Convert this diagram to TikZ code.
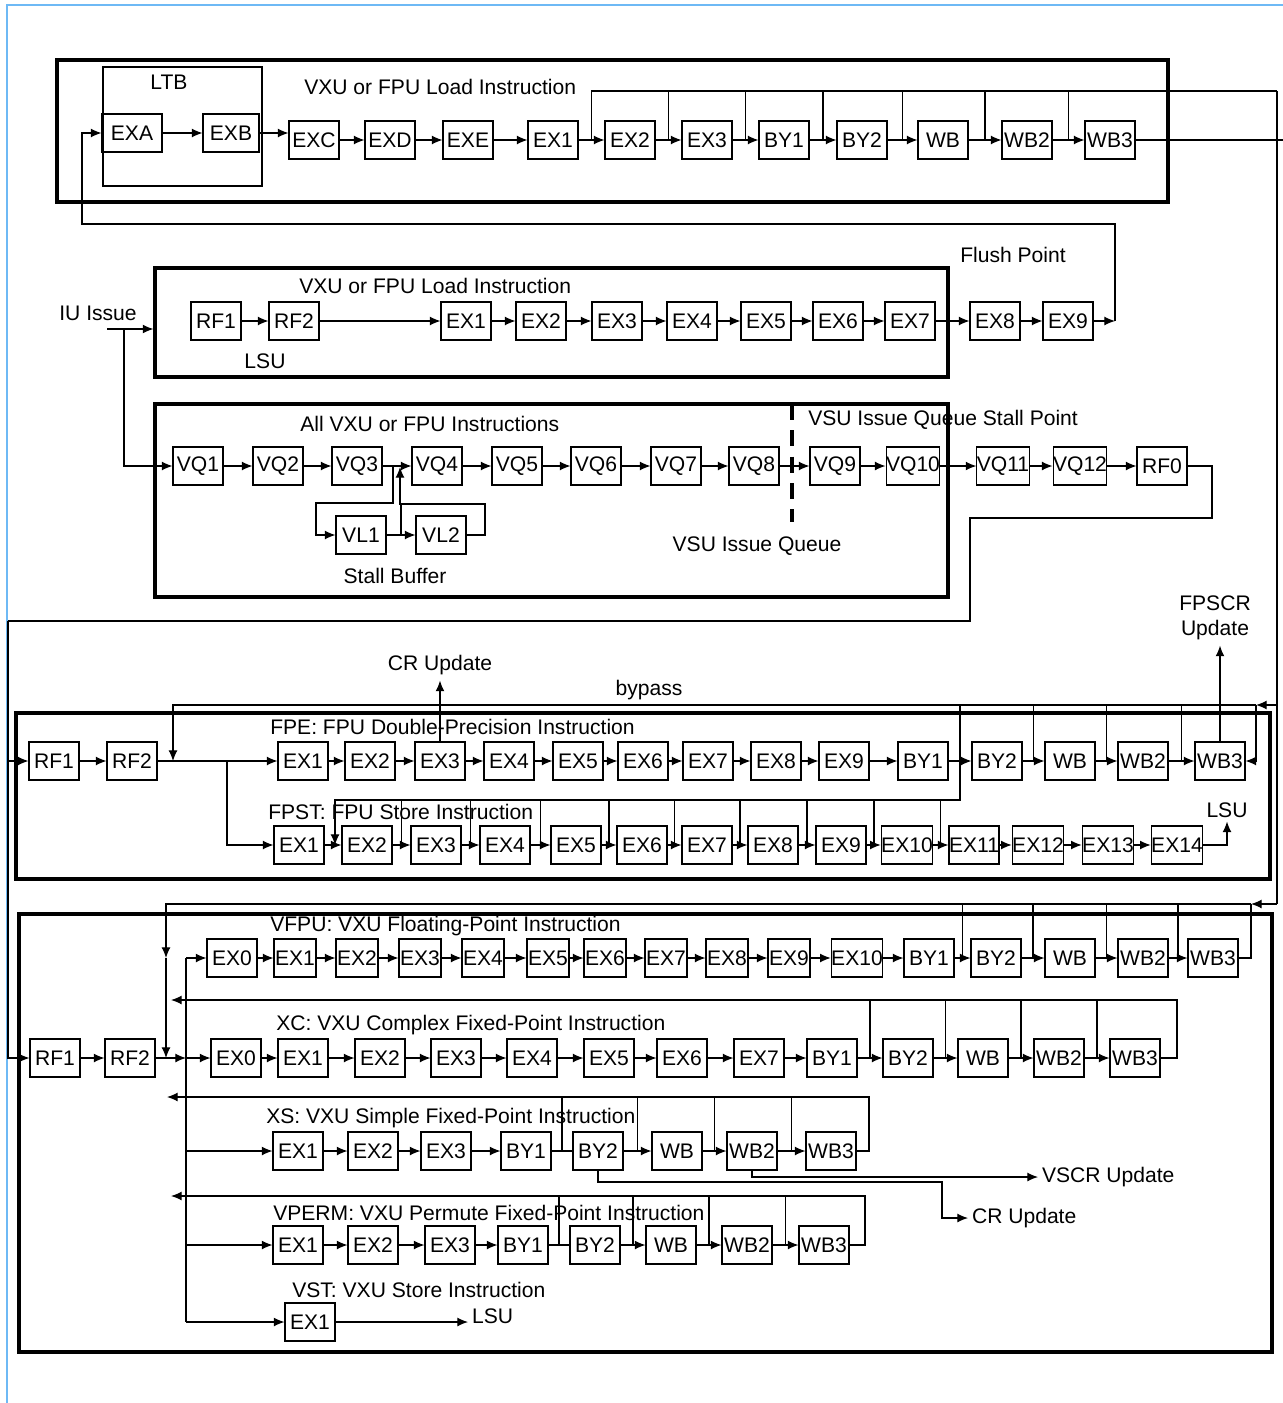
\documentclass[tikz,border=0pt]{standalone}
\usepackage{fontspec}
\setmainfont{Liberation Sans}
\usetikzlibrary{arrows.meta,calc}
\definecolor{pagerule}{RGB}{110,185,245}
\begin{document}
\begin{tikzpicture}[x=0.02cm, y=-0.02cm,
    font=\fontsize{12}{14}\selectfont,
    >={Latex[length=6pt,width=5pt]},
    line width=0.6pt,
    stage/.style={draw, rectangle, minimum width=1cm, minimum height=0.76cm, inner xsep=0pt, inner ysep=1pt},
    slim/.style={stage, minimum width=0.84cm},
    unitbox/.style={draw, rectangle, line width=1.9pt, inner sep=0pt},
    lbl/.style={inner sep=1pt},
    heading/.style={lbl, anchor=west},
    stall/.style={line width=2pt, dash pattern=on 9pt off 6pt}]
    \useasboundingbox (0,0) rectangle (1283,1403);
    \draw[pagerule, line width=1.2pt] (7,1403) -- (7,5) -- (1283,5);

    % frames
    \node[unitbox, minimum width=22.22cm, minimum height=2.84cm] (ldbox) at (612.5,131) {};
    \node[draw, rectangle, minimum width=3.18cm, minimum height=2.38cm] (ltb) at (182.5,126.5) {};
    \node[unitbox, minimum width=15.86cm, minimum height=2.18cm] (lsbox) at (551.5,322.5) {};
    \node[unitbox, minimum width=15.86cm, minimum height=3.86cm] (vqbox) at (551.5,500.5) {};
    \node[unitbox, minimum width=25.08cm, minimum height=3.32cm] (fpbox) at (643,796) {};
    \node[unitbox, minimum width=25.06cm, minimum height=8.76cm] (vxbox) at (645.5,1133) {};

    % load path through the LTB
    \node[lbl] (ltblbl) at (169,82) {LTB};
    \node[heading] (ldtitle) at (302,87) {VXU or FPU Load Instruction};
    \node[stage, minimum width=1.2cm] (ldexa) at (132,133) {EXA};
    \node[stage, minimum width=1.12cm] (ldexb) at (231,133) {EXB};
    \node[stage] (ldexc) at (314,140) {EXC};
    \node[stage] (ldexd) at (390,140) {EXD};
    \node[stage] (ldexe) at (468,140) {EXE};
    \node[stage] (ldex1) at (553,140) {EX1};
    \node[stage] (ldex2) at (630,140) {EX2};
    \node[stage] (ldex3) at (707,140) {EX3};
    \node[stage] (ldby1) at (784,140) {BY1};
    \node[stage] (ldby2) at (862,140) {BY2};
    \node[stage] (ldwb) at (943,140) {WB};
    \node[stage] (ldwb2) at (1027,140) {WB2};
    \node[stage] (ldwb3) at (1110,140) {WB3};

    \draw[->] (ldexa) -- (ldexb);
    \draw[->] (ldexb) -- (ldexb -| ldexc.west);
    \draw[->] (ldexc) -- (ldexd);
    \draw[->] (ldexd) -- (ldexe);
    \draw[->] (ldexe) -- (ldex1);
    \draw[->] (ldex1) -- (ldex2);
    \draw[->] (ldex2) -- (ldex3);
    \draw[->] (ldex3) -- (ldby1);
    \draw[->] (ldby1) -- (ldby2);
    \draw[->] (ldby2) -- (ldwb);
    \draw[->] (ldwb) -- (ldwb2);
    \draw[->] (ldwb2) -- (ldwb3);

    \coordinate (ldbus) at (1277,91);
    \coordinate (ldout) at (1283,140);
    \draw ($(ldex1)!0.5!(ldex2)$) |- (ldbus);
    \draw ($(ldex2)!0.5!(ldex3)$) |- (ldbus);
    \draw ($(ldex3)!0.5!(ldby1)$) |- (ldbus);
    \draw ($(ldby1)!0.5!(ldby2)$) |- (ldbus);
    \draw ($(ldby2)!0.5!(ldwb)$) |- (ldbus);
    \draw ($(ldwb)!0.5!(ldwb2)$) |- (ldbus);
    \draw ($(ldwb2)!0.5!(ldwb3)$) |- (ldbus);
    \draw (ldwb3) -- (ldout);

    % LSU load path
    \node[lbl] (flushlbl) at (1013,255) {Flush Point};
    \node[heading] (lstitle) at (297,286) {VXU or FPU Load Instruction};
    \node[lbl] (lslbl) at (265,361) {LSU};
    \node[lbl] (iu) at (98,313) {IU Issue};
    \node[stage] (lsrf1) at (216,321) {RF1};
    \node[stage] (lsrf2) at (294,321) {RF2};
    \node[stage] (lsex1) at (466,321) {EX1};
    \node[stage] (lsex2) at (541,321) {EX2};
    \node[stage] (lsex3) at (617,321) {EX3};
    \node[stage] (lsex4) at (692,321) {EX4};
    \node[stage] (lsex5) at (766,321) {EX5};
    \node[stage] (lsex6) at (838,321) {EX6};
    \node[stage] (lsex7) at (910,321) {EX7};
    \node[stage] (lsex8) at (995,321) {EX8};
    \node[stage] (lsex9) at (1068,321) {EX9};

    \draw[->] (lsrf1) -- (lsrf2);
    \draw[->] (lsrf2) -- (lsex1);
    \draw[->] (lsex1) -- (lsex2);
    \draw[->] (lsex2) -- (lsex3);
    \draw[->] (lsex3) -- (lsex4);
    \draw[->] (lsex4) -- (lsex5);
    \draw[->] (lsex5) -- (lsex6);
    \draw[->] (lsex6) -- (lsex7);
    \draw[->] (lsex7) -- (lsex8);
    \draw[->] (lsex8) -- (lsex9);

    \coordinate (flush) at (1115,321);
    \coordinate (loopbk) at (82,224);
    \draw[->] (lsex9) -- (flush);
    \draw[->] (flush) |- (loopbk) |- (ldexa);

    \coordinate (iuin) at (107,329);
    \coordinate (iudrop) at (124,329);
    \draw[->] (iuin) -- (iuin -| lsbox.west);

    % issue queue and stall buffer
    \node[heading] (vqtitle) at (298,424) {All VXU or FPU Instructions};
    \node[heading] (stallpt) at (806,420) {VSU Issue Queue Stall Point};
    \node[lbl] (vqlbl) at (757,546) {VSU Issue Queue};
    \node[lbl] (sblbl) at (395,576) {Stall Buffer};
    \node[stage] (vq1) at (198,466) {VQ1};
    \node[stage] (vq2) at (278,466) {VQ2};
    \node[stage] (vq3) at (357,466) {VQ3};
    \node[stage] (vq4) at (437,466) {VQ4};
    \node[stage] (vq5) at (517,466) {VQ5};
    \node[stage] (vq6) at (596,466) {VQ6};
    \node[stage] (vq7) at (676,466) {VQ7};
    \node[stage] (vq8) at (754,466) {VQ8};
    \node[stage] (vq9) at (835,466) {VQ9};
    \node[stage] (vq10) at (913,466) {VQ10};
    \node[stage] (vq11) at (1003,466) {VQ11};
    \node[stage] (vq12) at (1080,466) {VQ12};
    \node[stage] (rf0) at (1162,466) {RF0};
    \node[stage] (vl1) at (361,535) {VL1};
    \node[stage] (vl2) at (441,535) {VL2};

    \draw[->] (iudrop) |- (vq1);
    \draw[->] (vq1) -- (vq2);
    \draw[->] (vq2) -- (vq3);
    \draw[->] (vq3) -- (vq4);
    \draw[->] (vq4) -- (vq5);
    \draw[->] (vq5) -- (vq6);
    \draw[->] (vq6) -- (vq7);
    \draw[->] (vq7) -- (vq8);
    \draw[->] (vq8) -- (vq9);
    \draw[->] (vq9) -- (vq10);
    \draw[->] (vq10) -- (vq11);
    \draw[->] (vq11) -- (vq12);
    \draw[->] (vq12) -- (rf0);
    \draw[stall] (792,404) -- (792,522);

    \coordinate (sba) at (393,503);
    \coordinate (sbb) at (316,535);
    \coordinate (sbc) at (485,504);
    \coordinate (sbd) at (400,467);
    \draw[->] (vq3.east) -| (sba) -| (sbb) -- (vl1);
    \draw[->] (vl1) -- (vl2);
    \draw[->] (vl2) -| (sbc) -| (sbd);
    \draw ($(vl1)!0.5!(vl2)$) |- (sbc);

    \coordinate (ret1) at (1212,518);
    \coordinate (ret2) at (970,621);
    \coordinate (feed) at (8,621);
    \draw (rf0) -| (ret1) -| (ret2) -- (feed);

    % FPU pipelines
    \node[lbl, inner sep=3pt] (fecr) at (440,665) {CR Update};
    \node[lbl] (bypasslbl) at (649,690) {bypass};
    \node[lbl, align=center, inner sep=3pt] (fpscr) at (1215,618) {FPSCR\\Update};
    \node[heading] (fetitle) at (268,727) {FPE: FPU Double-Precision Instruction};
    \node[heading] (fstitle) at (266,812) {FPST: FPU Store Instruction};
    \node[lbl, inner sep=2pt] (fslsu) at (1227,810) {LSU};

    \node[stage] (ferf1) at (54,761) {RF1};
    \node[stage] (ferf2) at (132,761) {RF2};
    \node[stage] (feex1) at (303,761) {EX1};
    \node[stage] (feex2) at (370,761) {EX2};
    \node[stage] (feex3) at (440,761) {EX3};
    \node[stage] (feex4) at (509,761) {EX4};
    \node[stage] (feex5) at (578,761) {EX5};
    \node[stage] (feex6) at (643,761) {EX6};
    \node[stage] (feex7) at (708,761) {EX7};
    \node[stage] (feex8) at (776,761) {EX8};
    \node[stage] (feex9) at (844,761) {EX9};
    \node[stage] (feby1) at (923,761) {BY1};
    \node[stage] (feby2) at (997,761) {BY2};
    \node[stage] (fewb) at (1070,761) {WB};
    \node[stage] (fewb2) at (1143,761) {WB2};
    \node[stage] (fewb3) at (1220,761) {WB3};

    \node[stage] (fsex1) at (299,845) {EX1};
    \node[stage] (fsex2) at (367,845) {EX2};
    \node[stage] (fsex3) at (436,845) {EX3};
    \node[stage] (fsex4) at (505,845) {EX4};
    \node[stage] (fsex5) at (576,845) {EX5};
    \node[stage] (fsex6) at (642,845) {EX6};
    \node[stage] (fsex7) at (707,845) {EX7};
    \node[stage] (fsex8) at (773,845) {EX8};
    \node[stage] (fsex9) at (841,845) {EX9};
    \node[stage] (fsex10) at (907,845) {EX10};
    \node[stage] (fsex11) at (974,845) {EX11};
    \node[stage] (fsex12) at (1038,845) {EX12};
    \node[stage] (fsex13) at (1108,845) {EX13};
    \node[stage] (fsex14) at (1177,845) {EX14};

    \draw[->] (feed) |- (ferf1);
    \draw[->] (ferf1) -- (ferf2);
    \draw[->] (ferf2) -- (feex1);
    \draw[->] (feex1) -- (feex2);
    \draw[->] (feex2) -- (feex3);
    \draw[->] (feex3) -- (feex4);
    \draw[->] (feex4) -- (feex5);
    \draw[->] (feex5) -- (feex6);
    \draw[->] (feex6) -- (feex7);
    \draw[->] (feex7) -- (feex8);
    \draw[->] (feex8) -- (feex9);
    \draw[->] (feex9) -- (feby1);
    \draw[->] (feby1) -- (feby2);
    \draw[->] (feby2) -- (fewb);
    \draw[->] (fewb) -- (fewb2);
    \draw[->] (fewb2) -- (fewb3);

    \draw[->] (fsex1) -- (fsex2);
    \draw[->] (fsex2) -- (fsex3);
    \draw[->] (fsex3) -- (fsex4);
    \draw[->] (fsex4) -- (fsex5);
    \draw[->] (fsex5) -- (fsex6);
    \draw[->] (fsex6) -- (fsex7);
    \draw[->] (fsex7) -- (fsex8);
    \draw[->] (fsex8) -- (fsex9);
    \draw[->] (fsex9) -- (fsex10);
    \draw[->] (fsex10) -- (fsex11);
    \draw[->] (fsex11) -- (fsex12);
    \draw[->] (fsex12) -- (fsex13);
    \draw[->] (fsex13) -- (fsex14);
    \draw[->] (fsex14) -| (fslsu);

    \coordinate (febr) at (227,761);
    \draw[->] (febr) |- (fsex1);
    \draw[->] (feex3) -- (fecr);
    \draw[->] (fewb3.north) -- (fewb3.north |- fpscr.south);

    % bypass buses on the right
    \coordinate (fetap) at (1256,705);
    \coordinate (vftap) at (1251,904);
    \draw (ldbus) -- (ldbus |- vftap);
    \draw[->] (ldbus |- fetap) -- (fetap);
    \draw[->] (ldbus |- vftap) -- (vftap);

    \coordinate (febus) at (173,705);
    \draw[->] (fetap) -- (febus) -- (febus |- ferf2);
    \draw[->] (fetap) |- (fewb3);
    \draw ($(feby1)!0.5!(feby2)$) |- (fetap);
    \draw ($(feby2)!0.5!(fewb)$) |- (fetap);
    \draw ($(fewb)!0.5!(fewb2)$) |- (fetap);
    \draw ($(fewb2)!0.5!(fewb3)$) |- (fetap);

    \coordinate (fsbus) at (335,800);
    \draw[->] ($(feby1)!0.5!(feby2)$) |- (fsbus) -- (fsbus |- fsex1);
    \draw ($(fsex2)!0.5!(fsex3)$) |- (fsbus);
    \draw ($(fsex3)!0.5!(fsex4)$) |- (fsbus);
    \draw ($(fsex4)!0.5!(fsex5)$) |- (fsbus);
    \draw ($(fsex5)!0.5!(fsex6)$) |- (fsbus);
    \draw ($(fsex6)!0.5!(fsex7)$) |- (fsbus);
    \draw ($(fsex7)!0.5!(fsex8)$) |- (fsbus);
    \draw ($(fsex8)!0.5!(fsex9)$) |- (fsbus);
    \draw ($(fsex9)!0.5!(fsex10)$) |- (fsbus);
    \draw ($(fsex10)!0.5!(fsex11)$) |- (fsbus);

    % VXU pipelines
    \node[heading] (vftitle) at (268,926) {VFPU: VXU Floating-Point Instruction};
    \node[heading] (xctitle) at (274,1025) {XC: VXU Complex Fixed-Point Instruction};
    \node[heading] (xstitle) at (264,1118) {XS: VXU Simple Fixed-Point Instruction};
    \node[heading] (vptitle) at (271,1213) {VPERM: VXU Permute Fixed-Point Instruction};
    \node[heading] (vsttitle) at (290,1290) {VST: VXU Store Instruction};

    \node[stage] (vfex0) at (232,958) {EX0};
    \node[slim] (vfex1) at (295,958) {EX1};
    \node[slim] (vfex2) at (357,958) {EX2};
    \node[slim] (vfex3) at (420,958) {EX3};
    \node[slim] (vfex4) at (483,958) {EX4};
    \node[slim] (vfex5) at (548,958) {EX5};
    \node[slim] (vfex6) at (605,958) {EX6};
    \node[slim] (vfex7) at (666,958) {EX7};
    \node[slim] (vfex8) at (727,958) {EX8};
    \node[slim] (vfex9) at (789,958) {EX9};
    \node[stage] (vfex10) at (857,958) {EX10};
    \node[stage] (vfby1) at (929,958) {BY1};
    \node[stage] (vfby2) at (996,958) {BY2};
    \node[stage] (vfwb) at (1070,958) {WB};
    \node[stage] (vfwb2) at (1143,958) {WB2};
    \node[stage] (vfwb3) at (1213,958) {WB3};

    \node[stage] (vrf1) at (55,1058) {RF1};
    \node[stage] (vrf2) at (130,1058) {RF2};

    \node[stage] (xcex0) at (236,1058) {EX0};
    \node[stage] (xcex1) at (303,1058) {EX1};
    \node[stage] (xcex2) at (380,1058) {EX2};
    \node[stage] (xcex3) at (456,1058) {EX3};
    \node[stage] (xcex4) at (532,1058) {EX4};
    \node[stage] (xcex5) at (609,1058) {EX5};
    \node[stage] (xcex6) at (682,1058) {EX6};
    \node[stage] (xcex7) at (759,1058) {EX7};
    \node[stage] (xcby1) at (832,1058) {BY1};
    \node[stage] (xcby2) at (908,1058) {BY2};
    \node[stage] (xcwb) at (983,1058) {WB};
    \node[stage] (xcwb2) at (1059,1058) {WB2};
    \node[stage] (xcwb3) at (1135,1058) {WB3};

    \node[stage] (xsex1) at (298,1151) {EX1};
    \node[stage] (xsex2) at (373,1151) {EX2};
    \node[stage] (xsex3) at (446,1151) {EX3};
    \node[stage] (xsby1) at (526,1151) {BY1};
    \node[stage] (xsby2) at (598,1151) {BY2};
    \node[stage] (xswb) at (677,1151) {WB};
    \node[stage] (xswb2) at (752,1151) {WB2};
    \node[stage] (xswb3) at (831,1151) {WB3};

    \node[stage] (vpex1) at (298,1245) {EX1};
    \node[stage] (vpex2) at (373,1245) {EX2};
    \node[stage] (vpex3) at (450,1245) {EX3};
    \node[stage] (vpby1) at (523,1245) {BY1};
    \node[stage] (vpby2) at (595,1245) {BY2};
    \node[stage] (vpwb) at (671,1245) {WB};
    \node[stage] (vpwb2) at (747,1245) {WB2};
    \node[stage] (vpwb3) at (824,1245) {WB3};

    \node[stage] (vstex1) at (310,1322) {EX1};
    \node[lbl, anchor=west, inner sep=2pt] (vstlsu) at (468,1316) {LSU};
    \node[lbl, anchor=west, inner sep=2pt] (vscr) at (1038,1177) {VSCR Update};
    \node[lbl, anchor=west, inner sep=2pt] (xscr) at (968,1218) {CR Update};

    \draw[->] (feed) |- (vrf1);
    \draw[->] (vrf1) -- (vrf2);
    \coordinate (trunk) at (186,958);
    \coordinate (trunkend) at (186,1322);
    \draw (trunk) -- (trunkend);
    \draw[->] (vrf2) -- (vrf2 -| trunk);
    \draw[->] (trunk) -- (vfex0);
    \draw[->] (trunk |- xcex0) -- (xcex0);
    \draw[->] (trunk |- xsex1) -- (xsex1);
    \draw[->] (trunk |- vpex1) -- (vpex1);
    \draw[->] (trunk |- vstex1) -- (vstex1);

    \draw[->] (vfex0) -- (vfex1);
    \draw[->] (vfex1) -- (vfex2);
    \draw[->] (vfex2) -- (vfex3);
    \draw[->] (vfex3) -- (vfex4);
    \draw[->] (vfex4) -- (vfex5);
    \draw[->] (vfex5) -- (vfex6);
    \draw[->] (vfex6) -- (vfex7);
    \draw[->] (vfex7) -- (vfex8);
    \draw[->] (vfex8) -- (vfex9);
    \draw[->] (vfex9) -- (vfex10);
    \draw[->] (vfex10) -- (vfby1);
    \draw[->] (vfby1) -- (vfby2);
    \draw[->] (vfby2) -- (vfwb);
    \draw[->] (vfwb) -- (vfwb2);
    \draw[->] (vfwb2) -- (vfwb3);

    \coordinate (vfbus) at (166,904);
    \draw[->] (vftap) -- (vfbus) -- (vfbus |- vfex0);
    \draw[->] (vfbus |- vfex0) -- (vfbus |- xcex0);
    \draw (vfwb3) -| (vftap);
    \draw ($(vfby1)!0.5!(vfby2)$) |- (vftap);
    \draw ($(vfby2)!0.5!(vfwb)$) |- (vftap);
    \draw ($(vfwb)!0.5!(vfwb2)$) |- (vftap);
    \draw ($(vfwb2)!0.5!(vfwb3)$) |- (vftap);

    \draw[->] (xcex0) -- (xcex1);
    \draw[->] (xcex1) -- (xcex2);
    \draw[->] (xcex2) -- (xcex3);
    \draw[->] (xcex3) -- (xcex4);
    \draw[->] (xcex4) -- (xcex5);
    \draw[->] (xcex5) -- (xcex6);
    \draw[->] (xcex6) -- (xcex7);
    \draw[->] (xcex7) -- (xcby1);
    \draw[->] (xcby1) -- (xcby2);
    \draw[->] (xcby2) -- (xcwb);
    \draw[->] (xcwb) -- (xcwb2);
    \draw[->] (xcwb2) -- (xcwb3);

    \coordinate (xcbus) at (1177,1000);
    \coordinate (xcbusl) at (171,1000);
    \draw[->] (xcwb3) -| (xcbus) -- (xcbusl);
    \draw ($(xcby1)!0.5!(xcby2)$) |- (xcbus);
    \draw ($(xcby2)!0.5!(xcwb)$) |- (xcbus);
    \draw ($(xcwb)!0.5!(xcwb2)$) |- (xcbus);
    \draw ($(xcwb2)!0.5!(xcwb3)$) |- (xcbus);

    \draw[->] (xsex1) -- (xsex2);
    \draw[->] (xsex2) -- (xsex3);
    \draw[->] (xsex3) -- (xsby1);
    \draw (xsby1) -- (xsby2);
    \draw[->] (xsby2) -- (xswb);
    \draw[->] (xswb) -- (xswb2);
    \draw[->] (xswb2) -- (xswb3);

    \coordinate (xsbus) at (869,1097);
    \coordinate (xsbusl) at (167,1097);
    \draw[->] (xswb3) -| (xsbus) -- (xsbusl);
    \draw ($(xsby1)!0.5!(xsby2)$) |- (xsbus);
    \draw ($(xsby2)!0.5!(xswb)$) |- (xsbus);
    \draw ($(xswb)!0.5!(xswb2)$) |- (xsbus);
    \draw ($(xswb2)!0.5!(xswb3)$) |- (xsbus);

    \coordinate (crc) at (942,1182);
    \draw[->] (xswb2) |- (vscr);
    \draw[->] (xsby2) |- (crc) |- (xscr);

    \draw[->] (vpex1) -- (vpex2);
    \draw[->] (vpex2) -- (vpex3);
    \draw[->] (vpex3) -- (vpby1);
    \draw (vpby1) -- (vpby2);
    \draw[->] (vpby2) -- (vpwb);
    \draw[->] (vpwb) -- (vpwb2);
    \draw[->] (vpwb2) -- (vpwb3);

    \coordinate (vpbus) at (865,1196);
    \coordinate (vpbusl) at (171,1196);
    \draw[->] (vpwb3) -| (vpbus) -- (vpbusl);
    \draw ($(vpby1)!0.5!(vpby2)$) |- (vpbus);
    \draw ($(vpby2)!0.5!(vpwb)$) |- (vpbus);
    \draw ($(vpwb)!0.5!(vpwb2)$) |- (vpbus);
    \draw ($(vpwb2)!0.5!(vpwb3)$) |- (vpbus);

    \draw[->] (vstex1) -- (vstex1 -| vstlsu.west);
\end{tikzpicture}
\end{document}
